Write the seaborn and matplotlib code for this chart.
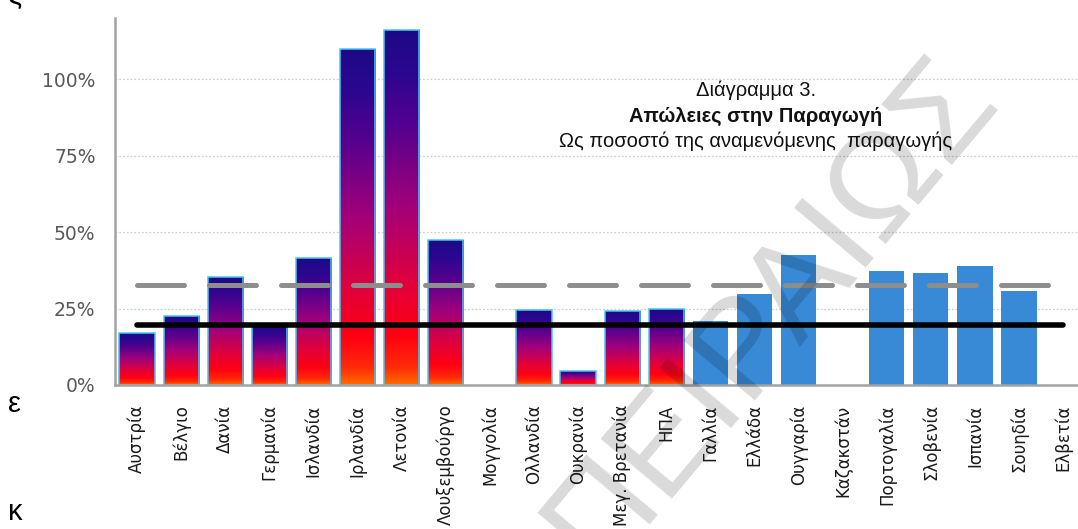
import numpy as np
import pandas as pd
import matplotlib
matplotlib.use("Agg")
import matplotlib.pyplot as plt
import seaborn as sns
from matplotlib.colors import LinearSegmentedColormap

# ---- data ----
countries = ["Αυστρία", "Βέλγιο", "Δανία", "Γερμανία", "Ισλανδία", "Ιρλανδία",
             "Λετονία", "Λουξεμβούργο", "Μογγολία", "Ολλανδία", "Ουκρανία",
             "Μεγ. Βρετανία", "ΗΠΑ", "Γαλλία", "Ελλάδα", "Ουγγαρία", "Καζακστάν",
             "Πορτογαλία", "Σλοβενία", "Ισπανία", "Σουηδία", "Ελβετία"]
losses = [17.0, 22.6, 35.4, 19.5, 41.4, 109.8, 116.0, 47.4, 0.0, 24.5, 4.6,
          24.2, 24.9, 20.9, 29.6, 42.5, 0.0, 37.3, 36.5, 39.0, 30.7, 0.0]
group = ["A"] * 13 + ["B"] * 9
dashed_level = 32.7
solid_level = 19.5
y_ticks = [0, 25, 50, 75, 100]
y_tick_labels = ["0%", "25%", "50%", "75%", "100%"]
title_lines = ["Διάγραμμα 3.", "Απώλειες στην Παραγωγή",
               "Ως ποσοστό της αναμενόμενης  παραγωγής"]

df = pd.DataFrame({"country": countries, "loss": losses, "group": group})

sns.set_style("white")
plt.rcParams["font.family"] = ["DejaVu Sans"]

W, H = 1078, 529
fig = plt.figure(figsize=(W / 100, H / 100), dpi=100)
fig.patch.set_facecolor("white")
ax = fig.add_axes([115 / W, 144 / H, 970.2 / W, 367 / H])

sns.barplot(data=df, x="country", y="loss", hue="group",
            palette={"A": "#7a1a8a", "B": "#388ad6"}, dodge=False,
            width=0.8, saturation=1, legend=False, linewidth=0,
            ax=ax, zorder=2)

# red -> magenta -> navy fill for the first group of bars
grad_cmap = LinearSegmentedColormap.from_list("loss_grad", [
    (0.00, "#ff6a00"), (0.05, "#ff2a08"), (0.14, "#ff0012"),
    (0.28, "#e2003a"), (0.50, "#a3007a"), (0.72, "#58008e"),
    (0.88, "#2c0690"), (1.00, "#1c0a86")])
gradient = grad_cmap(np.linspace(0, 1, 256)).reshape(256, 1, 4)

for patch in list(ax.patches):
    h = patch.get_height()
    if not np.isfinite(h) or h <= 0:
        continue
    x0, w = patch.get_x(), patch.get_width()
    idx = int(round(x0 + w / 2))
    if group[idx] != "A":
        continue
    im = ax.imshow(gradient, extent=(x0, x0 + w, 0, h), origin="lower",
                   aspect="auto", interpolation="bilinear", zorder=2)
    im.set_clip_path(patch)
    patch.set_facecolor("none")
    patch.set_edgecolor("#47c6f4")
    patch.set_linewidth(1.1)
    patch.set_zorder(2.5)

n = len(countries)
# reference levels
ax.plot([0, n - 1], [dashed_level, dashed_level], color="#8d8d8d", lw=3.6,
        linestyle=(0, (9.4, 5.0)), dash_capstyle="round", zorder=3)
ax.plot([0, n - 1], [solid_level, solid_level], color="black", lw=4.0,
        solid_capstyle="round", zorder=4)

ax.set_xlim(-0.5, n - 0.5)
ax.set_ylim(0, 120)

# axes styling
for s in ("top", "right"):
    ax.spines[s].set_visible(False)
for s in ("left", "bottom"):
    ax.spines[s].set_color("#a3a3a3")
    ax.spines[s].set_linewidth(1.8)

ax.set_yticks(y_ticks)
ax.set_yticklabels(y_tick_labels)
ax.tick_params(axis="y", direction="inout", length=8, width=1.4,
               color="#a3a3a3", labelcolor="#595959", labelsize=13.5, pad=10)
ax.yaxis.grid(True, linestyle=(0, (1.5, 1.5)), color="#c9d0da", lw=0.9)
ax.set_axisbelow(True)

ax.set_xticks(range(n))
ax.set_xticklabels(countries, rotation=90, fontsize=12, color="#1a1a1a")
ax.tick_params(axis="x", which="major", length=0, pad=14)
ax.set_xticks(np.arange(-0.5, n, 1.0), minor=True)
ax.tick_params(axis="x", which="minor", direction="inout", length=7,
               width=1.4, color="#a3a3a3")
ax.set_xlabel("")
ax.set_ylabel("")

# chart title block
title_x = 756 / W
fig.text(title_x, 1 - 90 / H, title_lines[0], ha="center", va="center",
         fontsize=14.5, family="Liberation Sans", color="#111111")
fig.text(title_x, 1 - 116 / H, title_lines[1], ha="center", va="center",
         fontsize=14.5, family="Liberation Sans", weight="bold",
         color="#111111")
fig.text(title_x, 1 - 141 / H, title_lines[2], ha="center", va="center",
         fontsize=14.5, family="Liberation Sans", color="#111111")

# surrounding page letters
for ch, yb in (("ς", 4), ("ε", 412), ("κ", 520)):
    fig.text(8 / W, 1 - yb / H, ch, ha="left", va="baseline", fontsize=21,
             family="Liberation Sans", color="black")

# diagonal watermark
fig.text(772 / W, 1 - 312 / H, "ΠΕΙΡΑΙΩΣ", ha="center", va="center",
         rotation=50, fontsize=98, family="Liberation Sans",
         color="black", alpha=0.15, zorder=10)

fig.savefig("out.png", dpi=100, facecolor="white")
